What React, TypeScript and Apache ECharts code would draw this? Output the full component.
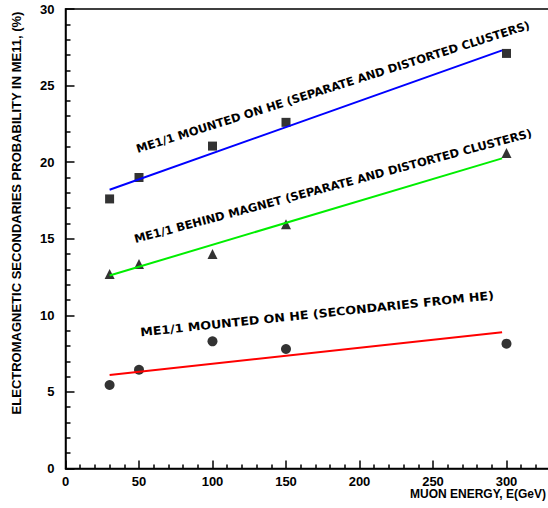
import React, { useEffect, useRef } from "react";
import * as echarts from "echarts";

const energies = [30, 50, 100, 150, 300];
const separateOnHE = [17.6, 19.0, 21.05, 22.6, 27.1];
const behindMagnet = [12.7, 13.35, 14.0, 15.95, 20.6];
const secondariesHE = [5.45, 6.45, 8.3, 7.8, 8.15];

const fitX = [30, 297];
const fitSeparateOnHE = [18.2, 27.3];
const fitBehindMagnet = [12.6, 20.25];
const fitSecondariesHE = [6.1, 8.9];

const labelSeparate = "ME1/1 MOUNTED ON HE (SEPARATE AND DISTORTED CLUSTERS)";
const labelBehind = "ME1/1 BEHIND MAGNET (SEPARATE AND DISTORTED CLUSTERS)";
const labelSecondaries = "ME1/1 MOUNTED ON HE (SECONDARIES FROM HE)";
const yTitle = "ELECTROMAGNETIC SECONDARIES PROBABILITY IN ME11, (%)";
const xTitle = "MUON ENERGY, E(GeV)";

const pair = (xs: number[], ys: number[]) => xs.map((x, i) => [x, ys[i]]);

export default function App() {
  const ref = useRef<HTMLDivElement>(null);
  useEffect(() => {
    if (!ref.current) return;
    const chart = echarts.init(ref.current, null, { renderer: "svg" });
    const font = "'DejaVu Sans', sans-serif";
    const lab = "'Liberation Sans', Arial, sans-serif";
    chart.setOption({
      animation: false,
      backgroundColor: "#fff",
      grid: {
        left: 65.5,
        right: 0,
        top: 9,
        bottom: 39.5,
        containLabel: false,
        show: true,
        borderColor: "#000",
        borderWidth: 1.5,
        backgroundColor: "transparent",
      },
      xAxis: {
        type: "value",
        min: 0,
        max: 350,
        interval: 50,
        axisLine: { show: true, lineStyle: { color: "#000", width: 1.5 } },
        axisTick: { show: true, inside: true, length: 8, lineStyle: { color: "#000", width: 1.5 } },
        minorTick: { show: true, splitNumber: 5, length: 4, lineStyle: { color: "#000", width: 1.5 } },
        axisLabel: { color: "#000", fontFamily: lab, fontWeight: "bold", fontSize: 13, margin: 6, showMaxLabel: false },
        splitLine: { show: false },
      },
      yAxis: {
        type: "value",
        min: 0,
        max: 30,
        interval: 5,
        axisLine: { show: true, lineStyle: { color: "#000", width: 1.5 } },
        axisTick: { show: true, inside: true, length: 9, lineStyle: { color: "#000", width: 1.5 } },
        minorTick: { show: true, splitNumber: 5, length: 5, lineStyle: { color: "#000", width: 1.5 } },
        axisLabel: { color: "#000", fontFamily: lab, fontWeight: "bold", fontSize: 13, margin: 11 },
        splitLine: { show: false },
      },
      series: [
        {
          type: "line",
          data: pair(fitX, fitSeparateOnHE),
          symbol: "none",
          lineStyle: { color: "#0000ff", width: 2 },
        },
        {
          type: "line",
          data: pair(fitX, fitBehindMagnet),
          symbol: "none",
          lineStyle: { color: "#00ee00", width: 2 },
        },
        {
          type: "line",
          data: pair(fitX, fitSecondariesHE),
          symbol: "none",
          lineStyle: { color: "#ff0000", width: 2 },
        },
        {
          type: "scatter",
          data: pair(energies, separateOnHE),
          symbol: "rect",
          symbolSize: 9,
          itemStyle: { color: "#000" },
        },
        {
          type: "scatter",
          data: pair(energies, behindMagnet),
          symbol: "triangle",
          symbolSize: 10,
          itemStyle: { color: "#000" },
        },
        {
          type: "scatter",
          data: pair(energies, secondariesHE),
          symbol: "circle",
          symbolSize: 10,
          itemStyle: { color: "#000" },
        },
      ],
      graphic: [
        {
          type: "text",
          x: 333,
          y: 87,
          rotation: (17.6 * Math.PI) / 180,
          style: { text: labelSeparate, fill: "#000", font: `bold 11.5px ${font}`, align: "center", verticalAlign: "middle" },
        },
        {
          type: "text",
          x: 333,
          y: 186,
          rotation: (15 * Math.PI) / 180,
          style: { text: labelBehind, fill: "#000", font: `bold 11.5px ${font}`, align: "center", verticalAlign: "middle" },
        },
        {
          type: "text",
          x: 317,
          y: 314,
          rotation: (6 * Math.PI) / 180,
          scaleX: 1.1,
          style: { text: labelSecondaries, fill: "#000", font: `bold 11.5px ${font}`, align: "center", verticalAlign: "middle" },
        },
        {
          type: "text",
          x: 16,
          y: 213,
          rotation: Math.PI / 2,
          style: { text: yTitle, fill: "#000", font: `bold 13px ${lab}`, align: "center", verticalAlign: "middle" },
        },
        {
          type: "text",
          x: 546,
          y: 494,
          style: { text: xTitle, fill: "#000", font: `bold 12px ${lab}`, align: "right", verticalAlign: "middle" },
        },
      ],
    });
    return () => chart.dispose();
  }, []);
  return (
    <div style={{ position: "absolute", left: 0, top: 0, width: 548, height: 508, overflow: "hidden" }}>
      <div ref={ref} style={{ width: 580, height: 508 }} />
    </div>
  );
}
